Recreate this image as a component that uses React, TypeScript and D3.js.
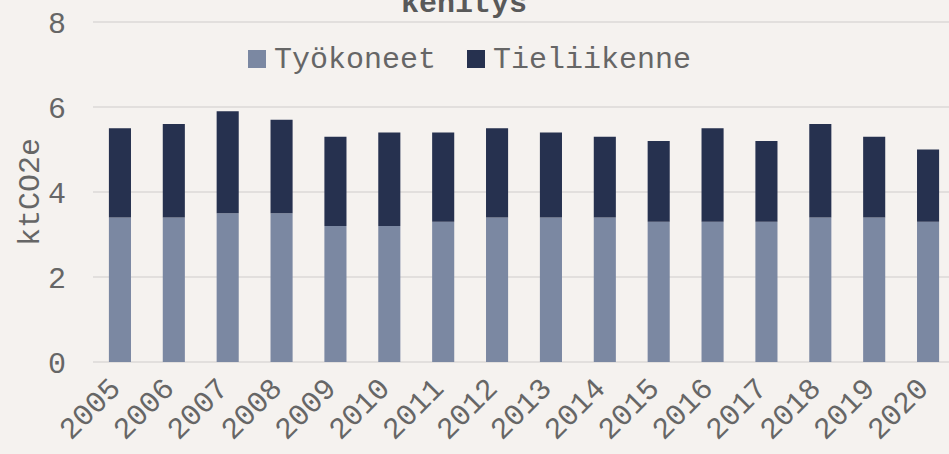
import { useEffect, useRef } from 'react';
import * as d3 from 'd3';

const years = ['2005', '2006', '2007', '2008', '2009', '2010', '2011', '2012', '2013', '2014', '2015', '2016', '2017', '2018', '2019', '2020'];
const tyokoneet = [3.4, 3.4, 3.5, 3.5, 3.2, 3.2, 3.3, 3.4, 3.4, 3.4, 3.3, 3.3, 3.3, 3.4, 3.4, 3.3];
const tieliikenne = [2.1, 2.2, 2.4, 2.2, 2.1, 2.2, 2.1, 2.1, 2.0, 1.9, 1.9, 2.2, 1.9, 2.2, 1.9, 1.7];
const seriesNames = ['Työkoneet', 'Tieliikenne'];
const colors = ['#7b88a2', '#26314f'];
const yTicks = [0, 2, 4, 6, 8];

export default function App() {
  const ref = useRef<SVGSVGElement>(null);

  useEffect(() => {
    const width = 949, height = 454;
    const margin = { top: 22, right: -6, bottom: 92, left: 93 };
    const font = '"Courier New", "Liberation Mono", monospace';
    const textColor = '#666666';
    const svg = d3.select(ref.current);
    svg.selectAll('*').remove();
    svg.attr('width', width).attr('height', height);

    svg.append('rect').attr('width', width).attr('height', height).attr('fill', '#f5f2ef');

    const data = years.map((y, i) => ({ year: y, Työkoneet: tyokoneet[i], Tieliikenne: tieliikenne[i] }));
    const stacked = d3.stack<any>().keys(seriesNames)(data);

    const x = d3.scaleBand().domain(years).range([margin.left, width - margin.right]).paddingInner(0.59).paddingOuter(0.295);
    const y = d3.scaleLinear().domain([0, 8]).range([height - margin.bottom, margin.top]);

    // gridlines
    svg.append('g')
      .selectAll('line')
      .data(yTicks)
      .join('line')
      .attr('x1', margin.left)
      .attr('x2', width)
      .attr('y1', d => y(d))
      .attr('y2', d => y(d))
      .attr('stroke', '#dbd9d7')
      .attr('stroke-width', 1.6);

    svg.append('g')
      .selectAll('g')
      .data(stacked)
      .join('g')
      .attr('fill', (_, i) => colors[i])
      .selectAll('rect')
      .data(d => d)
      .join('rect')
      .attr('x', d => x(d.data.year)!)
      .attr('y', d => y(d[1]))
      .attr('width', x.bandwidth())
      .attr('height', d => y(d[0]) - y(d[1]));

    // y tick labels
    svg.append('g')
      .selectAll('text')
      .data(yTicks)
      .join('text')
      .attr('x', 66)
      .attr('y', d => y(d))
      .attr('dy', '0.35em')
      .attr('text-anchor', 'end')
      .attr('font-family', font)
      .attr('font-size', 30)
      .attr('fill', textColor)
      .text(d => d);

    // x tick labels
    svg.append('g')
      .selectAll('text')
      .data(years)
      .join('text')
      .attr('transform', d => `translate(${x(d)! + x.bandwidth() / 2 + 2},${390}) rotate(-45)`)
      .attr('text-anchor', 'end')
      .attr('font-family', font)
      .attr('font-size', 30)
      .attr('fill', textColor)
      .text(d => d);

    // y axis title
    svg.append('text')
      .attr('transform', `translate(39,${192}) rotate(-90)`)
      .attr('text-anchor', 'middle')
      .attr('font-family', font)
      .attr('font-size', 30)
      .attr('fill', textColor)
      .text('ktCO2e');

    // chart title, cut at the top edge as in the original
    svg.append('text')
      .attr('x', 464)
      .attr('y', 12)
      .attr('text-anchor', 'middle')
      .attr('font-family', font)
      .attr('font-size', 30)
      .attr('font-weight', 'bold')
      .attr('fill', '#595959')
      .text('kehitys');

    // legend
    const legendX = [248, 467];
    const lg = svg.append('g')
      .selectAll('g')
      .data(seriesNames)
      .join('g')
      .attr('transform', (_, i) => `translate(${legendX[i]},50)`);
    lg.append('rect').attr('width', 18).attr('height', 18).attr('fill', (_, i) => colors[i]);
    lg.append('text')
      .attr('x', 26)
      .attr('y', 18)
      .attr('font-family', font)
      .attr('font-size', 30)
      .attr('fill', textColor)
      .text(d => d);
  }, []);

  return (
    <div style={{ position: 'absolute', left: 0, top: 0 }}>
      <svg ref={ref} style={{ display: 'block' }}></svg>
    </div>
  );
}
